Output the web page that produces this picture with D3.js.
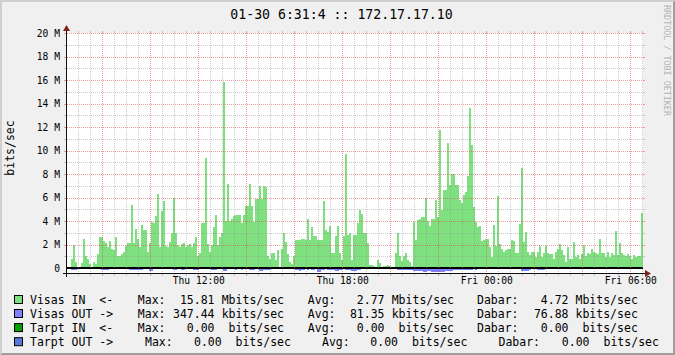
<!DOCTYPE html>
<head>
<meta charset="utf-8">
<script src="https://d3js.org/d3.v7.min.js"></script>
<style>
    body { margin:0; background:#f0f0f0; }
    svg { display:block; }
    text { font-family: "DejaVu Sans Mono", monospace; fill: #000; }
    .grid { stroke: rgba(143,143,143,0.46); stroke-width: 1; stroke-dasharray: 1,1; shape-rendering: crispEdges; }
    .mgrid { stroke: rgba(222,80,80,0.56); stroke-width: 1; stroke-dasharray: 1,1; shape-rendering: crispEdges; }
    .tick { stroke: rgba(143,143,143,0.46); stroke-width: 1; shape-rendering: crispEdges; }
    .mtick { stroke: rgba(222,80,80,0.56); stroke-width: 1; shape-rendering: crispEdges; }
    .axis { stroke: #101010; stroke-width: 1; shape-rendering: crispEdges; }
    .arrow { fill: #7f1f1f; }
    .ylab, .xlab { font-size: 9.65px; }
    .legend { font-size: 11.5px; }
    .title { font-size: 13.2px; }
    .unitlab { font-size: 11.5px; }
    .watermark { font-size: 8.4px; fill: #b4b4b4; }
</style>
</head>

<body>
<script>
    var title = "01-30 6:31:4 :: 172.17.17.10";
    var unitLabel = "bits/sec";
    var watermark = "RRDTOOL / TOBI OETIKER";
    var startTime = new Date(2014, 0, 30, 6, 31, 40);
    var endTime = new Date(2014, 0, 31, 6, 31, 40);
    var stepSeconds = 300;

    // Visas IN, Mbits/sec, one value per 5 minutes
    var visasIn = [
        0.1, 0.1, 0.8, 2.0, 0.5, 0.0, 0.0, 0.4, 2.45, 1.0,
        0.8, 0.3, 0.05, 0.5, 0.3, 1.2, 2.6, 2.6, 2.3, 2.15,
        1.8, 2.3, 1.65, 1.5, 2.6, 1.05, 1.05, 1.2, 1.4, 1.85,
        2.1, 2.1, 5.4, 2.1, 3.3, 2.5, 1.8, 3.7, 3.2, 3.2,
        1.4, 2.1, 3.9, 3.8, 4.4, 6.3, 1.8, 4.85, 5.7, 1.9,
        1.8, 2.25, 3.0, 6.0, 2.95, 1.95, 1.8, 2.05, 2.15, 1.8,
        1.95, 2.05, 1.8, 2.1, 2.65, 1.0, 1.25, 3.8, 3.85, 9.4,
        2.05, 1.4, 1.95, 3.45, 4.5, 1.95, 2.65, 3.0, 15.81, 4.0,
        7.15, 4.0, 4.2, 4.4, 4.55, 4.55, 4.55, 3.8, 4.5, 5.3,
        5.3, 7.15, 5.3, 3.95, 5.9, 5.9, 7.0, 5.9, 6.95, 6.9,
        1.0, 0.8, 1.3, 1.3, 0.65, 1.5, 0.1, 1.6, 3.0, 2.2,
        1.2, 0.5, 0.3, 1.0, 2.4, 2.4, 2.4, 2.5, 2.5, 2.4,
        4.2, 2.4, 3.5, 2.7, 2.7, 2.4, 2.4, 2.4, 5.7, 3.2,
        3.1, 3.6, 1.3, 1.3, 2.7, 3.6, 1.3, 0.7, 2.7, 9.7,
        2.8, 2.95, 0.7, 2.8, 2.8, 3.8, 4.9, 4.6, 2.95, 2.95,
        2.1, 0.25, 0.25, 0.15, 0.1, 0.7, 0.4, 0.1, 0.2, 0.2,
        0.25, 0.2, 0.1, 0.1, 1.3, 3.0, 1.0, 0.6, 1.0, 1.3,
        0.7, 0.55, 0.2, 3.95, 2.4, 4.1, 4.2, 4.3, 4.3, 6.0,
        4.0, 3.6, 4.2, 4.2, 5.8, 4.35, 11.75, 4.95, 6.65, 6.65,
        10.6, 7.05, 8.0, 8.0, 7.05, 7.05, 5.8, 5.5, 6.2, 6.5,
        7.85, 13.6, 10.5, 5.2, 3.95, 3.5, 3.55, 2.3, 2.4, 2.45,
        2.45, 1.8, 0.95, 3.65, 1.9, 6.1, 2.05, 1.65, 1.4, 1.55,
        1.6, 1.6, 2.4, 2.3, 1.25, 1.25, 3.75, 8.5, 2.25, 3.05,
        1.4, 1.1, 1.4, 1.4, 0.95, 1.4, 1.85, 0.95, 1.25, 1.9,
        1.25, 1.2, 1.2, 0.75, 1.4, 1.65, 2.05, 1.55, 1.1, 0.55,
        1.8, 0.8, 0.75, 2.25, 0.95, 1.1, 0.75, 1.2, 1.95, 1.0,
        1.25, 1.15, 1.6, 1.4, 1.25, 1.2, 2.5, 1.3, 1.25, 0.95,
        1.4, 0.95, 1.25, 1.1, 3.15, 1.1, 2.1, 1.25, 1.1, 1.0,
        1.2, 1.0, 0.75, 1.1, 0.95, 1.0, 1.0, 4.65
    ];

    // Visas OUT, kbits/sec, drawn below zero
    var visasOut = [
        20, 20, 170, 200, 150, 40, 30, 60, 20, 50,
        30, 20, 60, 80, 40, 30, 90, 180, 160, 150,
        170, 120, 60, 80, 50, 90, 70, 60, 100, 80,
        60, 170, 160, 180, 150, 170, 160, 140, 80, 60,
        90, 250, 220, 80, 60, 100, 70, 90, 120, 60,
        80, 100, 70, 180, 150, 70, 90, 170, 150, 60,
        80, 90, 70, 180, 170, 150, 80, 60, 90, 100,
        70, 80, 170, 180, 160, 90, 70, 100, 260, 230,
        120, 100, 90, 110, 130, 100, 90, 170, 90, 110,
        120, 180, 200, 170, 100, 120, 260, 240, 200, 180,
        190, 150, 40, 60, 30, 80, 20, 50, 110, 70,
        40, 30, 60, 90, 150, 210, 230, 200, 180, 120,
        140, 100, 130, 150, 110, 300, 320, 150, 130, 120,
        140, 160, 150, 130, 230, 250, 200, 140, 120, 160,
        150, 130, 220, 240, 260, 210, 180, 120, 100, 90,
        60, 40, 20, 10, 30, 20, 40, 10, 20, 30,
        20, 10, 30, 40, 120, 150, 180, 200, 190, 170,
        150, 130, 180, 250, 270, 260, 240, 290, 310, 300,
        280, 260, 300, 320, 347.44, 330, 310, 340, 300, 260,
        250, 230, 240, 210, 180, 170, 190, 200, 160, 180,
        150, 170, 130, 120, 140, 110, 100, 60, 40, 70,
        50, 30, 60, 40, 20, 50, 30, 40, 30, 60,
        20, 50, 30, 40, 20, 60, 50, 260, 280, 250,
        230, 200, 90, 70, 60, 170, 190, 180, 160, 40,
        30, 50, 20, 60, 40, 30, 50, 100, 80, 60,
        40, 30, 50, 20, 30, 20, 40, 60, 30, 20,
        50, 40, 30, 20, 40, 30, 50, 20, 30, 40,
        20, 30, 50, 40, 20, 30, 20, 40, 30, 20,
        30, 40, 20, 30, 20, 30, 40, 60
    ];

    var yTicks = [0, 2, 4, 6, 8, 10, 12, 14, 16, 18, 20];
    var yMinorTicks = [1, 3, 5, 7, 9, 11, 13, 15, 17, 19];

    var seriesNames = ["Visas IN  <-", "Visas OUT ->", "Tarpt IN  <-", "Tarpt OUT ->"];
    var seriesColors = ["#7fe07f", "#8080ff", "#00a000", "#5a78d8"];
    var maxValues = ["15.81", "347.44", "0.00", "0.00"];
    var avgValues = ["2.77", "81.35", "0.00", "0.00"];
    var lastValues = ["4.72", "76.88", "0.00", "0.00"];
    var valueUnits = ["Mbits/sec", "kbits/sec", " bits/sec", " bits/sec"];

    var width = 675;
    var height = 355;
    var plotLeft = 67, plotRight = 643, plotTop = 33, plotBottom = 273;

    var svg = d3.select("body").append("svg")
        .attr("width", width)
        .attr("height", height);

    svg.append("rect").attr("width", width).attr("height", height).attr("fill", "#f0f0f0");

    var x = d3.scaleTime().domain([startTime, endTime]).range([plotLeft, plotRight]);
    var y = d3.scaleLinear().domain([-0.4255, 20]).range([plotBottom, plotTop]);

    svg.append("rect")
        .attr("x", plotLeft).attr("y", plotTop)
        .attr("width", plotRight - plotLeft).attr("height", plotBottom - plotTop)
        .attr("fill", "#fff");

    function timeAt(i) {
        return new Date(startTime.getTime() + i * stepSeconds * 1000);
    }

    function points(values, scale) {
        var pts = values.map((v, i) => ({ t: timeAt(i), v: v * scale }));
        pts.push({ t: timeAt(values.length), v: values[values.length - 1] * scale });
        return pts;
    }

    var area = d3.area()
        .curve(d3.curveStepAfter)
        .x(d => x(d.t))
        .y0(y(0))
        .y1(d => y(d.v));

    svg.append("path")
        .attr("d", area(points(visasIn, 1)))
        .attr("fill", seriesColors[0])
        .attr("shape-rendering", "crispEdges");

    svg.append("path")
        .attr("d", area(points(visasOut, -0.001)))
        .attr("fill", seriesColors[1])
        .attr("shape-rendering", "crispEdges");

    // zero line
    svg.append("line")
        .attr("x1", plotLeft).attr("x2", plotRight)
        .attr("y1", y(0)).attr("y2", y(0))
        .attr("stroke", "#000").attr("stroke-width", 2);

    // horizontal grid
    function hLine(v, cls, tcls) {
        var yy = Math.round(y(v)) + 0.5;
        svg.append("line").attr("class", tcls).attr("x1", plotLeft - 3).attr("x2", plotLeft).attr("y1", yy).attr("y2", yy);
        svg.append("line").attr("class", cls).attr("x1", plotLeft).attr("x2", plotRight).attr("y1", yy).attr("y2", yy);
        svg.append("line").attr("class", tcls).attr("x1", plotRight).attr("x2", plotRight + 2).attr("y1", yy).attr("y2", yy);
    }
    yMinorTicks.forEach(v => hLine(v, "grid", "tick"));
    yTicks.forEach(v => { if (v > 0) hLine(v, "mgrid", "mtick"); });

    // vertical grid
    var majorTimes = d3.timeHour.every(2).range(startTime, endTime);
    var minorTimes = d3.timeMinute.every(30).range(startTime, endTime)
        .filter(t => !(t.getMinutes() === 0 && t.getHours() % 2 === 0));

    function vLine(t, cls, tcls) {
        var xx = Math.floor(x(t)) + 0.5;
        svg.append("line").attr("class", tcls).attr("x1", xx).attr("x2", xx).attr("y1", plotTop - 2).attr("y2", plotTop);
        svg.append("line").attr("class", cls).attr("x1", xx).attr("x2", xx).attr("y1", plotTop).attr("y2", plotBottom);
        svg.append("line").attr("class", tcls).attr("x1", xx).attr("x2", xx).attr("y1", plotBottom).attr("y2", plotBottom + 3);
    }
    minorTimes.forEach(t => vLine(t, "grid", "tick"));
    majorTimes.forEach(t => vLine(t, "mgrid", "mtick"));

    // axes
    svg.append("line").attr("class", "axis")
        .attr("x1", plotLeft - 4).attr("x2", plotRight + 4)
        .attr("y1", plotBottom + 0.5).attr("y2", plotBottom + 0.5);
    svg.append("line").attr("class", "axis")
        .attr("x1", plotLeft - 0.5).attr("x2", plotLeft - 0.5)
        .attr("y1", plotBottom + 4).attr("y2", plotTop - 4);

    svg.append("path").attr("class", "arrow")
        .attr("d", `M${plotRight + 2},${plotBottom - 3}L${plotRight + 2},${plotBottom + 4}L${plotRight + 8},${plotBottom + 0.5}Z`);
    svg.append("path").attr("class", "arrow")
        .attr("d", `M${plotLeft - 4},${plotTop - 2}L${plotLeft + 3},${plotTop - 2}L${plotLeft - 0.5},${plotTop - 8}Z`);

    // y labels
    svg.selectAll(".ylab")
        .data(yTicks)
        .enter()
        .append("text")
        .attr("class", "ylab")
        .attr("x", 60)
        .attr("y", d => y(d) + 3.8)
        .attr("text-anchor", "end")
        .text(d => d === 0 ? "0" : d + " M");

    // x labels
    var fmt = d3.timeFormat("%a %H:%M");
    svg.selectAll(".xlab")
        .data(d3.timeHour.every(6).range(startTime, endTime))
        .enter()
        .append("text")
        .attr("class", "xlab")
        .attr("x", d => x(d) + 0.5)
        .attr("y", 284)
        .attr("text-anchor", "middle")
        .text(d => fmt(d));

    // unit label
    svg.append("text")
        .attr("class", "unitlab")
        .attr("transform", "translate(14,148) rotate(-90)")
        .attr("text-anchor", "middle")
        .text(unitLabel);

    // title
    svg.append("text")
        .attr("class", "title")
        .attr("x", 341.5)
        .attr("y", 18.5)
        .attr("text-anchor", "middle")
        .text(title);

    // watermark
    svg.append("text")
        .attr("class", "watermark")
        .attr("transform", "translate(664,5) rotate(90)")
        .text(watermark);

    // legend
    var rowY = [303.5, 317.5, 331.6, 345.7];
    var colsA = { max: 137.8, maxV: 214.5, maxU: 221.7, avg: 307.8, avgV: 384.5, avgU: 391.7, cur: 477, curV: 568.5, curU: 575.5 };
    var colsB = { max: 145, maxV: 221.7, maxU: 228.6, avg: 322, avgV: 398, avgU: 405, cur: 498.5, curV: 589.5, curU: 596.6 };

    seriesNames.forEach((name, i) => {
        var yy = rowY[i];
        var c = i === 3 ? colsB : colsA;
        svg.append("rect")
            .attr("x", 14.5).attr("y", yy - 8)
            .attr("width", 8).attr("height", 8)
            .attr("fill", seriesColors[i])
            .attr("stroke", "#000").attr("stroke-width", 1);
        var g = svg.append("g").attr("class", "legend");
        function t(xx, s, anchor) {
            g.append("text").attr("x", xx).attr("y", yy)
                .attr("text-anchor", anchor || "start")
                .attr("xml:space", "preserve")
                .style("white-space", "pre")
                .text(s);
        }
        t(30, name);
        t(c.max, "Max:");
        t(c.maxV, maxValues[i], "end");
        t(c.maxU, valueUnits[i]);
        t(c.avg, "Avg:");
        t(c.avgV, avgValues[i], "end");
        t(c.avgU, valueUnits[i]);
        t(c.cur, "Dabar:");
        t(c.curV, lastValues[i], "end");
        t(c.curU, valueUnits[i]);
    });

    // 3d frame
    svg.append("path").attr("fill", "#cfcfcf")
        .attr("d", `M0,0L${width},0L${width - 2},2L2,2L2,${height - 2}L0,${height}Z`);
    svg.append("path").attr("fill", "#9e9e9e")
        .attr("d", `M${width},0L${width},${height}L0,${height}L2,${height - 2}L${width - 2},${height - 2}L${width - 2},2Z`);
</script>
</body>
